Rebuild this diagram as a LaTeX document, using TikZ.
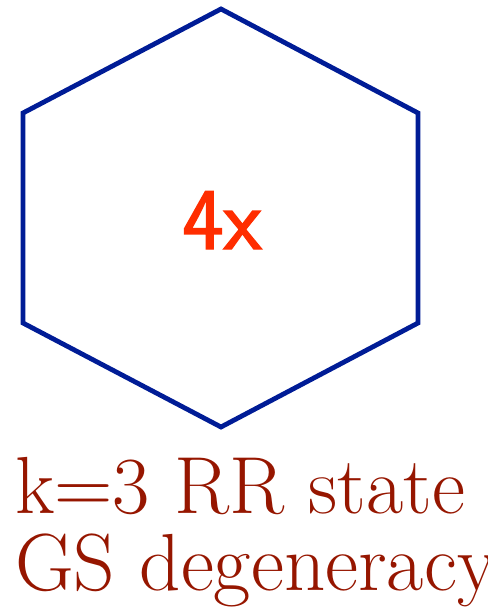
\documentclass[tikz,border=0pt]{standalone}
\usepackage{fontspec}
\newfontfamily\numfont[FakeBold=1.6]{Latin Modern Sans}
\definecolor{hexblue}{RGB}{0,28,150}
\definecolor{numred}{RGB}{255,45,0}
\definecolor{txtred}{RGB}{150,22,0}
\begin{document}
\begin{tikzpicture}[x=1pt,y=-1pt,
  hexline/.style={draw=hexblue,line width=4.8pt,line join=miter},
  lbl/.style={inner sep=0pt,outer sep=0pt}]
\useasboundingbox (0,0) rectangle (487,609);
\clip (0,0) rectangle (487,609);
\coordinate (t) at (221,9);
\coordinate (ur) at (418,113);
\coordinate (lr) at (418,323);
\coordinate (b) at (221,427);
\coordinate (ll) at (23,323);
\coordinate (ul) at (23,113);
\draw[hexline] (t) -- (ur) -- (lr) -- (b) -- (ll) -- (ul) -- cycle;
\node[lbl,text=numred,anchor=base,font=\numfont\fontsize{88}{88}\selectfont] (num) at (222,249) {4x};
\node[lbl,text=txtred,anchor=base west,font=\fontsize{81}{77}\selectfont] (l1) at (15,513) {k=3 RR state};
\node[lbl,text=txtred,anchor=base west,font=\fontsize{81}{77}\selectfont] (l2) at (15,590) {GS degeneracy};
\end{tikzpicture}
\end{document}
